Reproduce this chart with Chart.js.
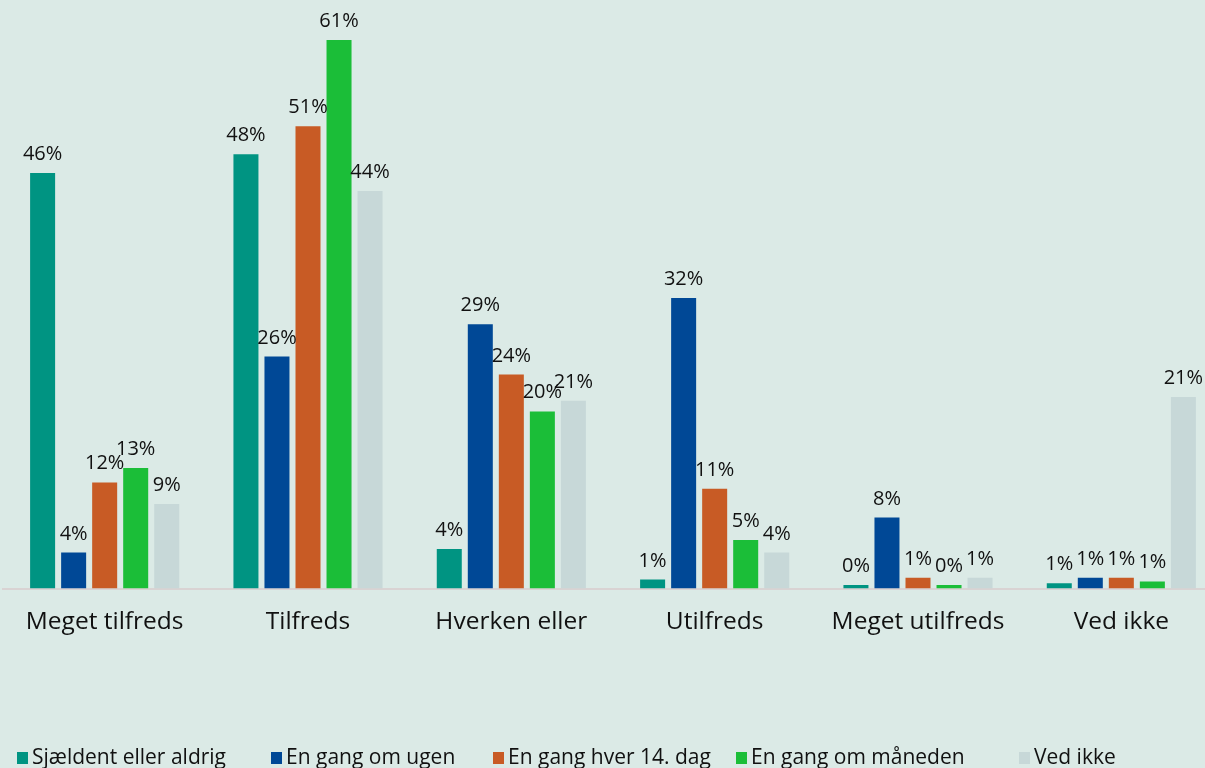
<!DOCTYPE html>
<html>
<head>
<meta charset="utf-8">
<script src="https://cdn.jsdelivr.net/npm/chart.js@4.4.0/dist/chart.umd.min.js"></script>
<style>
  html, body { margin: 0; padding: 0; background: #dbeae6; overflow: hidden; width: 1205px; height: 768px; }
  #wrap { position: relative; width: 1205px; height: 768px; overflow: hidden; }
  canvas { position: absolute; left: 0; top: 0; }
  #legend { position: absolute; top: 742px; left: 0; height: 28px; font-family: "Open Sans", sans-serif; font-size: 21px; color: #111; }
  .item { position: absolute; top: 0; white-space: nowrap; line-height: 28px; }
  .box { display: inline-block; width: 11px; height: 12px; margin-right: 4px; vertical-align: 0px; }
</style>
</head>
<body>
<div id="wrap">
  <canvas id="c" width="1225" height="768"></canvas>
  <div id="legend"></div>
</div>
<script>
const categories = ["Meget tilfreds", "Tilfreds", "Hverken eller", "Utilfreds", "Meget utilfreds", "Ved ikke"];
const seriesNames = ["Sjældent eller aldrig", "En gang om ugen", "En gang hver 14. dag", "En gang om måneden", "Ved ikke"];
const sjaeldent = [46.2, 48.3, 4.4, 1.0, 0.4, 0.6];
const ugen      = [4.0, 25.8, 29.4, 32.3, 7.9, 1.2];
const dag14     = [11.8, 51.4, 23.8, 11.1, 1.2, 1.2];
const maaned    = [13.4, 61.0, 19.7, 5.4, 0.4, 0.8];
const vedIkke   = [9.4, 44.2, 20.9, 4.0, 1.2, 21.3];
const colors = ["#009482", "#004896", "#c85b25", "#1bbe38", "#c7d8d8"];
const legendX = [17, 271, 493, 736, 1019];

const seriesValues = [sjaeldent, ugen, dag14, maaned, vedIkke];

const labelPlugin = {
  id: "barLabels",
  afterDatasetsDraw(chart) {
    const ctx = chart.ctx;
    ctx.save();
    ctx.font = '20px "Open Sans", sans-serif';
    ctx.fillStyle = "#111";
    ctx.textAlign = "center";
    ctx.textBaseline = "alphabetic";
    chart.data.datasets.forEach((ds, i) => {
      const meta = chart.getDatasetMeta(i);
      meta.data.forEach((bar, j) => {
        const v = ds.data[j];
        ctx.fillText(Math.round(v) + "%", bar.x, bar.y - 13);
      });
    });
    ctx.restore();
  }
};

new Chart(document.getElementById("c"), {
  type: "bar",
  data: {
    labels: categories,
    datasets: seriesNames.map((n, i) => ({
      label: n,
      data: seriesValues[i],
      backgroundColor: colors[i],
      borderWidth: 0,
      categoryPercentage: 0.763,
      barPercentage: 0.806
    }))
  },
  options: {
    responsive: false,
    animation: false,
    layout: { padding: { left: 3, right: 2, top: 4, bottom: 112 } },
    plugins: { legend: { display: false }, tooltip: { enabled: false } },
    scales: {
      x: {
        grid: { display: false, drawTicks: false },
        border: { display: true, color: "#d9d3d3", width: 2 },
        ticks: { color: "#111", font: { family: "Open Sans", size: 24.5 }, padding: 19 }
      },
      y: { display: false, min: 0, max: 65 }
    }
  },
  plugins: [labelPlugin]
});

const lg = document.getElementById("legend");
seriesNames.forEach((n, i) => {
  const d = document.createElement("div");
  d.className = "item";
  d.style.left = legendX[i] + "px";
  d.innerHTML = '<span class="box" style="background:' + colors[i] + '"></span>';
  d.appendChild(document.createTextNode(n));
  lg.appendChild(d);
});
</script>
</body>
</html>
